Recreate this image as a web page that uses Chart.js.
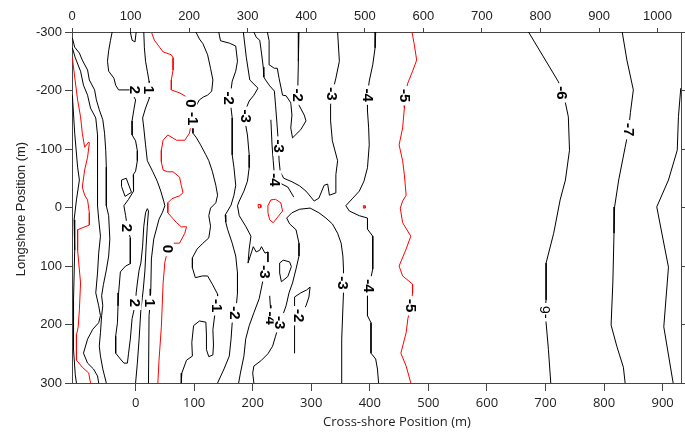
<!DOCTYPE html>
<html>
<head>
<meta charset="utf-8">
<script src="https://cdn.jsdelivr.net/npm/chart.js@4.4.0/dist/chart.umd.min.js"></script>
<style>
  html, body { margin: 0; padding: 0; background: #fff; }
  #wrap { position: relative; width: 685px; height: 436px; }
</style>
</head>
<body>
<div id="wrap"><canvas id="bathy"></canvas></div>
<script>
// axis ticks
const crossShoreTicks = [0, 100, 200, 300, 400, 500, 600, 700, 800, 900];
const topTicks = [0, 100, 200, 300, 400, 500, 600, 700, 800, 900, 1000];
const longshoreTicks = [-300, -200, -100, 0, 100, 200, 300];
const crossShoreMin = -108.6;
const crossShoreMax = 931.4;
const topOffset = 108.6; // top axis = cross-shore + offset

// depth contours, [cross-shore, longshore] in metres
const p6 = [[-108,-192],[-104,-127],[-99,-69],[-96,-47],[-101,-13],[-105,21],[-104,73],[-106,158],[-106,243],[-103,286],[-101,300]];
const p5 = [[-108,-256],[-104,-223],[-99,-184],[-94,-155],[-91,-127],[-87,-103],[-80,-112],[-79,-110],[-82,-86],[-87,-64],[-91,-35],[-87,-21],[-82,-13],[-79,9],[-79,30],[-99,38],[-99,73],[-94,129],[-96,175],[-98,204],[-101,218],[-101,261],[-91,273],[-80,283],[-77,300]];
const p4 = [[-108,-273],[-103,-256],[-94,-233],[-89,-209],[-82,-192],[-77,-170],[-68,-153],[-65,-124],[-65,-90],[-65,-56],[-65,-21],[-65,-3],[-63,20],[-60,49],[-63,78],[-65,112],[-68,146],[-63,168],[-60,185],[-63,197],[-73,208],[-82,225],[-89,249],[-82,266],[-72,276],[-65,288],[-63,300]];
const p3 = [[-108,-290],[-104,-274],[-96,-264],[-91,-252],[-82,-235],[-79,-218],[-70,-201],[-67,-184],[-62,-167],[-56,-150],[-53,-127],[-51,-98],[-50,-69],[-50,-35],[-50,-3],[-46,14],[-44,54],[-46,83],[-50,107],[-55,132],[-58,151],[-56,168],[-58,185],[-60,214],[-62,237],[-60,254],[-56,276],[-53,288],[-50,300]];
const p2 = [[-40,-300],[-43,-285],[-46,-268],[-48,-250],[-46,-233],[-37,-221],[-34,-209],[-29,-201],[-9,-201],[0,-184],[-3,-167],[-6,-148],[-6,-124],[0,-114],[3,-97],[3,-80],[0,-62],[-4,-56],[-3,-42],[-4,-28],[-12,-14],[-20,-3],[-17,14],[-14,35],[-9,52],[-9,96],[-17,100],[-26,110],[-29,146],[-30,168],[-31,197],[-34,220],[-34,249],[-26,259],[-20,266],[-14,266],[-12,249],[-9,225],[-6,190],[0,163],[1,146],[3,129],[6,107],[9,95],[12,66],[14,32],[17,9],[20,2],[22,6],[20,32],[18,66],[16,107],[13,141],[9,175],[6,225],[3,266],[0,300]];
const p2Loop = [[-24,-47],[-16,-50],[-7,-26],[-18,-19],[-24,-36],[-24,-47]];
const p1Notch = [[-9,-300],[-6,-286],[-1,-283],[1,-300]];
const p1 = [[14,-300],[15,-273],[17,-250],[20,-233],[23,-216],[24,-201],[23,-187],[17,-170],[12,-153],[14,-136],[17,-107],[20,-80],[29,-62],[37,-45],[43,-28],[48,-11],[50,-3],[46,8],[40,20],[31,54],[27,88],[26,139],[25,163],[23,185],[22,300]];
const z0 = [[27,-300],[32,-286],[41,-274],[47,-266],[61,-261],[64,-256],[64,-235],[61,-218],[61,-201],[75,-196],[87,-189],[95,-184],[96,-170],[96,-150],[92,-127],[84,-115],[70,-115],[55,-124],[47,-115],[44,-98],[44,-78],[47,-64],[55,-61],[64,-61],[75,-52],[78,-38],[81,-25],[75,-20],[62,-15],[55,-8],[55,9],[70,26],[78,33],[87,33],[84,44],[75,61],[63,61],[55,73],[50,93],[47,129],[44,204],[40,261],[38,300]];
const m1 = [[103,-300],[109,-288],[115,-280],[123,-261],[128,-238],[132,-218],[130,-199],[123,-192],[116,-189],[109,-184],[104,-175],[99,-167],[97,-150],[98,-127],[104,-119],[111,-107],[120,-90],[125,-80],[131,-62],[137,-38],[140,-21],[137,-8],[128,1],[125,14],[128,32],[125,52],[114,62],[105,71],[97,86],[97,103],[102,120],[114,117],[123,117],[131,131],[140,148],[140,168],[135,185],[132,209],[133,235],[132,252],[125,255],[121,243],[121,218],[120,196],[109,194],[99,202],[96,231],[97,254],[87,261],[79,283],[78,300]];
const m2 = [[142,-300],[145,-285],[160,-281],[171,-276],[174,-250],[171,-233],[165,-216],[163,-201],[160,-187],[163,-170],[165,-153],[165,-124],[165,-90],[168,-68],[171,-38],[168,-21],[163,-4],[153,13],[154,25],[157,37],[165,61],[171,83],[174,112],[174,146],[171,180],[165,197],[163,225],[160,254],[151,276],[140,300]];
const m2Finger = [[279,-300],[278,-250],[277,-204],[277,-192],[279,-175],[288,-158],[291,-148],[282,-133],[268,-119],[265,-136],[267,-158],[265,-179],[257,-191],[251,-192],[245,-221],[242,-238],[237,-238],[228,-244],[228,-285],[225,-300]];
const m2Pocket = [[272,249],[272,209],[271,153],[282,146],[292,141],[298,136],[296,153],[291,168],[282,180]];
const m3West = [[184,-300],[189,-257],[195,-218],[209,-204],[202,-192],[194,-182],[189,-170],[187,-156],[188,-141],[191,-124],[194,-90],[194,-68],[191,-45],[185,-28],[177,-11],[174,-3],[177,14],[188,32],[197,49],[194,71],[192,95],[201,67],[206,76],[212,73],[215,67],[221,78],[226,76],[226,93],[222,112],[217,127],[211,156],[202,180],[194,202],[188,225],[185,254],[179,283],[176,300]];
const m3Bend = [[202,-300],[206,-291],[212,-286],[215,-264],[218,-240],[219,-223],[222,-218],[229,-208],[237,-199],[239,-175],[242,-136],[244,-107],[245,-81],[247,-61],[253,-50],[267,-44],[280,-37],[291,-28],[305,-11],[313,-16],[322,-38],[328,-40],[331,-21],[342,-25],[342,-56],[345,-80],[336,-114],[333,-148],[333,-175],[336,-196],[342,-221],[348,-250],[345,-300]];
const m3Arc = [[351,300],[352,225],[355,146],[355,129],[355,105],[354,83],[351,61],[345,44],[336,28],[325,18],[313,9],[298,1],[280,3],[267,9],[258,18],[263,28],[274,38],[279,61],[279,83],[274,105],[268,129],[262,146],[257,168],[251,185],[246,197],[239,220],[234,237],[226,250],[214,262],[202,271],[200,283],[202,300]];
const m4Spur = [[231,-150],[233,-107],[235,-80],[237,-56],[239,-47],[250,-40],[260,-35],[270,-18]];
const m4Stub = [[229,151],[230,167],[231,180],[233,189]];
const m4Ring = [[246,95],[252,90],[263,93],[266,101],[260,118],[249,127],[246,112],[246,95]];
const m4 = [[410,-300],[409,-273],[405,-244],[399,-216],[396,-192],[396,-165],[398,-136],[399,-107],[396,-68],[390,-45],[382,-28],[371,-16],[359,-3],[365,6],[382,14],[396,18],[396,37],[405,49],[405,105],[399,134],[396,151],[396,185],[402,197],[402,249],[410,259],[413,276],[415,300]];
const m5Hole = [[226,-3],[231,-13],[239,-14],[248,-8],[251,6],[243,16],[235,26],[229,21],[226,9],[226,-3]];
const m5DotA = [[209,-5],[213,-5],[214,0],[210,1],[209,-5]];
const m5DotB = [[389,-3],[392,-3],[392,1],[389,1],[389,-3]];
const m5 = [[472,-300],[476,-278],[480,-252],[473,-233],[465,-213],[459,-191],[459,-170],[456,-136],[450,-107],[456,-80],[459,-56],[462,-21],[456,-11],[452,1],[456,26],[470,49],[462,71],[450,100],[456,117],[473,131],[473,146],[470,168],[465,190],[462,214],[453,249],[462,271],[470,300]];
const m6 = [[671,-300],[722,-215],[728,-196],[734,-179],[739,-155],[741,-98],[734,-47],[725,-13],[714,44],[701,95],[701,158],[699,179],[701,197],[705,243],[709,300]];
const m7 = [[831,-300],[839,-252],[850,-201],[845,-162],[842,-133],[836,-103],[825,-47],[818,-1],[817,44],[815,129],[812,201],[822,238],[833,273],[836,300]];
const m8 = [[931,-204],[927,-155],[925,-98],[910,-47],[890,-1],[910,102],[902,204],[918,300]];

// inline labels: text, cross-shore, longshore, reads upward
const contourLabels = [
  ['2', 0, -201], ['1', 23, -201], ['2', -14, 35], ['2', 0, 163], ['1', 25, 163],
  ['0', 55, 71], ['0', 95, -178], ['-1', 98, -152], ['-1', 139, 168],
  ['-2', 160, -187], ['-2', 277, -192], ['-3', 188, -156], ['-3', 245, -105],
  ['-4', 239, -47], ['-3', 336, -194], ['-4', 397, -192], ['-5', 460, -191],
  ['-6', 728, -196], ['-7', 842, -133], ['-2', 170, 180], ['-3', 222, 110],
  ['-4', 232, 189], ['-3', 246, 197], ['-2', 279, 185], ['-3', 355, 129],
  ['-4', 399, 134], ['-5', 470, 168], ['-6', 699, 179, true]
];

const BLACK = '#000000';
const RED = '#ff0000';
const contourSet = [
  [p6, BLACK], [p5, RED], [p4, BLACK], [p3, BLACK], [p2, BLACK], [p2Loop, BLACK],
  [p1Notch, BLACK], [p1, BLACK], [z0, RED], [m1, BLACK], [m2, BLACK],
  [m2Finger, BLACK], [m2Pocket, BLACK], [m3West, BLACK], [m3Bend, BLACK],
  [m3Arc, BLACK], [m4Spur, BLACK], [m4Stub, BLACK], [m4Ring, BLACK], [m4, BLACK],
  [m5Hole, RED], [m5DotA, RED], [m5DotB, RED], [m5, RED], [m6, BLACK], [m7, BLACK], [m8, BLACK]
];

const datasets = contourSet.map(([pts, color]) => ({
  data: pts.map(([x, y]) => ({ x, y })),
  borderColor: color,
  borderWidth: 1,
  showLine: true,
  pointRadius: 0,
  pointHoverRadius: 0,
  tension: 0,
  fill: false,
}));

const ARIAL = '"Liberation Sans", Arial, sans-serif';
const OPEN = '"Open Sans", sans-serif';
const AXIS = '#444444';

const contourLabelPlugin = {
  id: 'contourLabels',
  afterDatasetsDraw(chart) {
    const { ctx, scales: { x, y } } = chart;
    contourLabels.forEach(([text, u, v, up]) => {
      const px = x.getPixelForValue(u);
      const py = y.getPixelForValue(v);
      ctx.save();
      ctx.translate(px, py);
      ctx.rotate(up ? -Math.PI / 2 : Math.PI / 2);
      ctx.font = up ? '14px ' + ARIAL : 'bold 15px ' + ARIAL;
      const w = ctx.measureText(text).width;
      // break the contour line under the label
      ctx.fillStyle = '#ffffff';
      ctx.fillRect(-w / 2 - 3, -6, w + 6, 12);
      ctx.fillStyle = '#000000';
      ctx.textAlign = 'center';
      ctx.textBaseline = 'middle';
      ctx.fillText(text, 0, 1);
      ctx.restore();
    });
  },
  afterDraw(chart) {
    const { ctx } = chart;
    ctx.save();
    ctx.fillStyle = '#222222';
    ctx.textAlign = 'center';
    ctx.textBaseline = 'middle';
    ctx.font = '13px ' + OPEN;
    ctx.fillText('Cross-shore Position (m)', 397, 422);
    ctx.translate(21, 209);
    ctx.rotate(-Math.PI / 2);
    ctx.font = '13px ' + ARIAL;
    ctx.fillText('Longshore Position (m)', 0, 0);
    ctx.restore();
  }
};

const fixedTicks = list => scale => { scale.ticks = list.map(value => ({ value })); };
const plain = v => String(v);

new Chart(document.getElementById('bathy'), {
  type: 'scatter',
  data: { datasets },
  options: {
    responsive: true,
    maintainAspectRatio: false,
    animation: false,
    events: [],
    layout: { padding: 0 },
    plugins: {
      legend: { display: false },
      tooltip: { enabled: false },
    },
    scales: {
      x: {
        type: 'linear',
        position: 'bottom',
        min: crossShoreMin,
        max: crossShoreMax,
        afterBuildTicks: fixedTicks(crossShoreTicks),
        afterFit: s => { s.height = 53; },
        grid: { drawOnChartArea: false, tickLength: 8, color: AXIS },
        border: { color: AXIS, width: 1 },
        ticks: { color: '#222222', padding: 4, maxRotation: 0, callback: plain, font: { family: OPEN, size: 13 } },
      },
      x2: {
        type: 'linear',
        position: 'top',
        min: crossShoreMin + topOffset,
        max: crossShoreMax + topOffset,
        afterBuildTicks: fixedTicks(topTicks),
        afterFit: s => { s.height = 32; },
        grid: { drawOnChartArea: false, tickLength: 4, color: AXIS },
        border: { color: AXIS, width: 1 },
        ticks: { color: '#222222', padding: 4, maxRotation: 0, callback: plain, font: { family: ARIAL, size: 13 } },
      },
      y: {
        type: 'linear',
        position: 'left',
        reverse: true,
        min: -300,
        max: 300,
        afterBuildTicks: fixedTicks(longshoreTicks),
        afterFit: s => { s.width = 72; },
        grid: { drawOnChartArea: false, tickLength: 7, color: AXIS },
        border: { color: AXIS, width: 1 },
        ticks: { color: '#222222', padding: 3, callback: plain, font: { family: ARIAL, size: 13 } },
      },
      y2: {
        type: 'linear',
        position: 'right',
        reverse: true,
        min: -300,
        max: 300,
        afterBuildTicks: fixedTicks(longshoreTicks),
        afterFit: s => { s.width = 4; },
        grid: { drawOnChartArea: false, tickLength: 4, color: AXIS },
        border: { color: AXIS, width: 1 },
        ticks: { display: false },
      },
    },
  },
  plugins: [contourLabelPlugin],
});
</script>
</body>
</html>
